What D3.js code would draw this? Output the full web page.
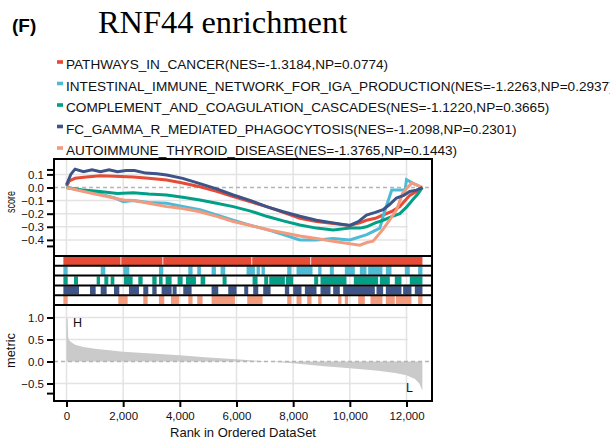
<!DOCTYPE html>
<html>
<head>
<meta charset="utf-8">
<script src="https://cdn.jsdelivr.net/npm/d3@7"></script>
<style>
body { margin: 0; background: #fff; overflow: hidden; }
svg { display: block; font-family: "Liberation Sans", Arial, sans-serif; }
</style>
</head>
<body>
<div id="container"></div>
<script>
// gene sets shown in the legend
const setNames = [
    "PATHWAYS_IN_CANCER",
    "INTESTINAL_IMMUNE_NETWORK_FOR_IGA_PRODUCTION",
    "COMPLEMENT_AND_COAGULATION_CASCADES",
    "FC_GAMMA_R_MEDIATED_PHAGOCYTOSIS",
    "AUTOIMMUNE_THYROID_DISEASE"
]
const setNES = ["-1.3184", "-1.2263", "-1.1220", "-1.2098", "-1.3765"]
const setNP = ["0.0774", "0.2937", "0.3665", "0.2301", "0.1443"]

const xTicks = [0, 2000, 4000, 6000, 8000, 10000, 12000]
const esTicks = [0.1, 0.0, -0.1, -0.2, -0.3, -0.4]
const metricTicks = [1.0, 0.5, 0.0, -0.5]
const nGenes = 12560

// running enrichment score, [rank, ES]
const esPathways = [[0,0.01],[100,0.05],[300,0.07],[700,0.08],[1200,0.09],[1700,0.085],[2358,0.08],[2900,0.07],[3534,0.057],[4100,0.035],[4709,0.006],[5300,-0.03],[5885,-0.07],[6500,-0.11],[7061,-0.146],[7650,-0.19],[8236,-0.235],[8824,-0.26],[9412,-0.275],[10000,-0.29],[10350,-0.27],[10588,-0.25],[10900,-0.235],[11176,-0.21],[11500,-0.18],[11764,-0.146],[11950,-0.1],[12116,-0.06],[12350,-0.03],[12560,0]]
const esIntestinal = [[0,0],[600,-0.025],[1182,-0.05],[1700,-0.08],[2005,-0.108],[2358,-0.1],[2900,-0.115],[3534,-0.12],[4100,-0.145],[4709,-0.17],[5300,-0.21],[5885,-0.25],[6500,-0.29],[7061,-0.32],[7650,-0.36],[8236,-0.4],[8824,-0.4],[9412,-0.39],[10000,-0.4],[10600,-0.36],[11060,-0.31],[11200,-0.2],[11480,-0.02],[11950,-0.02],[12000,0.06],[12250,0.03],[12560,0]]
const esComplement = [[0,0],[600,-0.02],[1182,-0.03],[1800,-0.045],[2358,-0.04],[2900,-0.05],[3534,-0.057],[4100,-0.075],[4709,-0.095],[5300,-0.12],[5885,-0.146],[6500,-0.18],[7061,-0.22],[7650,-0.255],[8236,-0.286],[8824,-0.31],[9412,-0.324],[10000,-0.31],[10353,-0.31],[10588,-0.3],[10900,-0.27],[11176,-0.25],[11500,-0.22],[11764,-0.2],[12000,-0.15],[12234,-0.09],[12400,-0.05],[12560,0]]
const esFcGamma = [[0,0.02],[150,0.1],[300,0.14],[600,0.12],[900,0.135],[1200,0.12],[1500,0.135],[1800,0.12],[2100,0.13],[2400,0.13],[2800,0.11],[3200,0.105],[3534,0.095],[4100,0.07],[4709,0.03],[5300,-0.01],[5885,-0.057],[6500,-0.1],[7061,-0.146],[7650,-0.185],[8236,-0.22],[8824,-0.25],[9412,-0.27],[10000,-0.29],[10300,-0.26],[10588,-0.21],[10900,-0.19],[11176,-0.17],[11400,-0.13],[11646,-0.08],[11900,-0.06],[12116,-0.03],[12350,-0.02],[12560,0]]
const esAutoimmune = [[0,0],[600,-0.03],[1182,-0.057],[2005,-0.095],[2358,-0.1],[2900,-0.12],[3534,-0.146],[4100,-0.16],[4709,-0.185],[5300,-0.22],[5885,-0.26],[6500,-0.29],[7061,-0.32],[7650,-0.345],[8236,-0.37],[8824,-0.39],[9412,-0.41],[10000,-0.43],[10353,-0.44],[10600,-0.42],[10820,-0.41],[11170,-0.32],[11400,-0.25],[11650,-0.17],[11870,-0.04],[12040,0.0],[12190,0.035],[12350,0.02],[12560,0]]

// hit positions, [from rank, to rank]
const hitsPathways = [[-110,1905],[1935,3385],[3415,6525],[6555,8605],[8635,12563]]
const hitsIntestinal = [[-110,40],[1206,1370],[2005,2217],[3263,3416],[4298,4450],[4615,4744],[5121,5273],[5438,5603],[6355,6649],[6708,6825],[6884,7002],[7790,7943],[8119,8683],[8883,9001],[9294,9436],[9823,10176],[10353,10588],[10647,11152],[11270,11470],[11940,12116],[12410,12563]]
const hitsComplement = [[-110,42],[265,406],[1064,1182],[1335,1476],[1558,1688],[2029,2334],[2534,2687],[3028,3181],[3263,3392],[3498,3710],[3921,4098],[4216,4568],[4733,4897],[5509,5650],[6567,6743],[6978,7119],[7155,7707],[7742,8001],[8742,8883],[8965,9882],[10141,10999],[11058,11411],[11587,11822],[12116,12563]]
const hitsFcGamma = [[-110,441],[829,1029],[1206,1417],[1676,1864],[2205,2558],[2710,2887],[3028,3181],[3357,3710],[3745,3886],[4121,4415],[5121,5356],[5709,6003],[6273,6414],[6590,6767],[6943,7202],[7707,7860],[8001,8295],[8413,8824],[8965,9318],[9412,9647],[9765,10882],[10941,11176],[11270,11822],[11881,12175],[12293,12563]]
const hitsAutoimmune = [[-110,42],[1829,2158],[2710,2863],[3263,3451],[3686,3968],[4298,4450],[4615,4803],[5121,5944],[6379,6919],[7790,7943],[8119,8295],[8495,8648],[8883,9001],[9588,9705],[9823,9940],[10294,10529],[10729,11152],[11270,11587],[11622,12175],[12410,12563]]

// ranked list metric, [rank, value]
const rankedMetric = [[0,1.0],[40,0.97],[60,0.55],[100,0.47],[300,0.38],[600,0.33],[1000,0.29],[2000,0.22],[3000,0.18],[4000,0.14],[5000,0.09],[6000,0.05],[7000,0.005],[8000,-0.04],[9000,-0.1],[10000,-0.155],[11000,-0.21],[11600,-0.26],[12000,-0.31],[12300,-0.4],[12450,-0.5],[12520,-0.6],[12560,-0.66]]

const esSeries = [esPathways, esIntestinal, esComplement, esFcGamma, esAutoimmune]
const hitSeries = [hitsPathways, hitsIntestinal, hitsComplement, hitsFcGamma, hitsAutoimmune]
const colors = ["#E64B35", "#4DBBD5", "#00A087", "#3C5488", "#F39B7F"]

const W = 610, H = 446
const left = 54, right = 432
const esTop = 159, esBot = 256
const hitTop = 256, hitBot = 305
const mTop = 305, mBot = 401
const gridColor = "#e3e3e3"

const svg = d3.select('#container').append('svg').attr('width', W).attr('height', H)

const x = d3.scaleLinear().domain([0, 12000]).range([66.5, 406.5])
const yES = d3.scaleLinear().domain([-0.523, 0.2176]).range([esBot, esTop])
const yM = d3.scaleLinear().domain([-0.898, 1.284]).range([mBot, mTop])
const gridEnd = x(12050)

// title and panel tag
svg.append("text").attr("x", 12).attr("y", 32).attr("font-size", 19).attr("font-weight", "bold").text("(F)")
svg.append("text").attr("x", 98).attr("y", 33).attr("font-size", 32.4)
    .attr("font-family", "'Liberation Serif', 'Times New Roman', serif").text("RNF44 enrichment")

// legend
const legend = svg.append("g")
setNames.forEach((name, i) => {
    const by = 69 + i * 21.5
    legend.append("rect").attr("x", 57).attr("y", by - 8.8).attr("width", 6).attr("height", 3.6).attr("fill", colors[i])
    legend.append("text").attr("x", 66).attr("y", by).attr("font-size", 13.6).attr("fill", "#111")
        .text(`${name}(NES=${setNES[i]},NP=${setNP[i]})`)
})

const clip = (id, y0, y1) => {
    svg.append("clipPath").attr("id", id).append("rect")
        .attr("x", left).attr("y", y0).attr("width", right - left).attr("height", y1 - y0)
}
clip("clipES", esTop, esBot)
clip("clipHit", hitTop, hitBot)
clip("clipM", mTop, mBot)

const drawVGrid = (g, y0, y1) => {
    g.selectAll(".vg").data(xTicks).join("line")
        .attr("x1", d => x(d)).attr("x2", d => x(d)).attr("y1", y0).attr("y2", y1)
        .attr("stroke", gridColor).attr("stroke-width", 1.5)
}
const drawHGrid = (g, ticks, y) => {
    g.selectAll(".hg").data(ticks.filter(d => d !== 0)).join("line")
        .attr("x1", left).attr("x2", gridEnd).attr("y1", d => y(d)).attr("y2", d => y(d))
        .attr("stroke", gridColor).attr("stroke-width", 1.5)
}
const drawZero = (g, y) => {
    g.append("line").attr("x1", left).attr("x2", right).attr("y1", y(0)).attr("y2", y(0))
        .attr("stroke", "#b5b5b5").attr("stroke-width", 1.3).attr("stroke-dasharray", "4,3")
}
const drawYAxis = (ticks, y, ends) => {
    const g = svg.append("g").attr("transform", `translate(${left},0)`)
        .call(d3.axisLeft(y).tickValues(ticks).tickSize(7).tickPadding(3).tickFormat(d3.format(".1f")))
    g.select(".domain").remove()
    g.selectAll(".tick line").attr("stroke", "#000").attr("stroke-width", 2)
    g.selectAll(".tick text").attr("font-size", 11.5).attr("fill", "#111")
        .attr("font-family", "'Liberation Sans', Arial, sans-serif")
    ends.forEach(v => {
        g.append("line").attr("x1", -7).attr("x2", 0).attr("y1", y(v)).attr("y2", y(v))
            .attr("stroke", "#000").attr("stroke-width", 2)
    })
}

// ---- enrichment score panel
const gES = svg.append("g")
drawVGrid(gES, esTop, esBot)
drawHGrid(gES, esTicks, yES)
drawZero(gES, yES)
const esLine = d3.line().x(d => x(d[0])).y(d => yES(d[1]))
const esOrder = [0, 1, 2, 4, 3]
esOrder.forEach(i => {
    gES.append("path").attr("d", esLine(esSeries[i])).attr("fill", "none")
        .attr("stroke", colors[i]).attr("stroke-width", 3).attr("stroke-linejoin", "miter")
        .attr("clip-path", "url(#clipES)")
})
drawYAxis(esTicks, yES, [0.134, -0.45])

// ---- hits panel
const gHit = svg.append("g")
drawVGrid(gHit, hitTop, hitBot)
const rowH = (hitBot - hitTop) / hitSeries.length
hitSeries.forEach((hits, i) => {
    const r0 = hitTop + i * rowH
    gHit.selectAll(".hit" + i).data(hits).join("rect")
        .attr("x", d => x(d[0])).attr("width", d => x(d[1]) - x(d[0]))
        .attr("y", r0 + 0.8).attr("height", rowH - 1.6)
        .attr("fill", colors[i]).attr("clip-path", "url(#clipHit)")
})
d3.range(1, hitSeries.length).forEach(i => {
    gHit.append("line").attr("x1", left).attr("x2", right)
        .attr("y1", hitTop + i * rowH).attr("y2", hitTop + i * rowH)
        .attr("stroke", "#000").attr("stroke-width", 2)
})

// ---- ranked metric panel
const gM = svg.append("g")
drawVGrid(gM, mTop, mBot)
drawHGrid(gM, metricTicks, yM)
const area = d3.area().x(d => x(d[0])).y0(yM(0)).y1(d => yM(d[1]))
gM.append("path").attr("d", area(rankedMetric)).attr("fill", "#cacaca").attr("clip-path", "url(#clipM)")
drawZero(gM, yM)
gM.append("text").attr("x", 73).attr("y", 326.7).attr("font-size", 12.5).attr("fill", "#111").text("H")
gM.append("text").attr("x", 406).attr("y", 391.7).attr("font-size", 12.5).attr("fill", "#111").text("L")
drawYAxis(metricTicks, yM, [-0.73])

// panel frames
;[[esTop, esBot], [hitTop, hitBot], [mTop, mBot]].forEach(([a, b]) => {
    svg.append("rect").attr("x", left).attr("y", a).attr("width", right - left).attr("height", b - a)
        .attr("fill", "none").attr("stroke", "#000").attr("stroke-width", 2)
})

// x axis
const gx = svg.append("g").attr("transform", `translate(0,${mBot})`)
    .call(d3.axisBottom(x).tickValues(xTicks).tickSize(6).tickPadding(5).tickFormat(d3.format(",")))
gx.select(".domain").remove()
gx.selectAll(".tick line").attr("stroke", "#000").attr("stroke-width", 2)
gx.selectAll(".tick text").attr("font-size", 11.5).attr("fill", "#111")
    .attr("font-family", "'Liberation Sans', Arial, sans-serif")
svg.append("text").attr("x", 243).attr("y", 436.7).attr("text-anchor", "middle")
    .attr("font-size", 13).attr("fill", "#111").text("Rank in Ordered DataSet")

// y titles, partly cut by the left edge
const yTitle = (txt, cx, cy, len) => {
    svg.append("text").attr("transform", `translate(${cx},${cy}) rotate(-90)`)
        .attr("text-anchor", "middle").attr("font-size", 12).attr("fill", "#111")
        .attr("textLength", len).attr("lengthAdjust", "spacingAndGlyphs").text(txt)
}
yTitle("Enrichment", -2.5, 202, 50)
yTitle("score", 15, 202, 22)
yTitle("Ranked list", -2.5, 342, 46)
yTitle("metric", 15, 350.5, 35)
</script>
</body>
</html>
